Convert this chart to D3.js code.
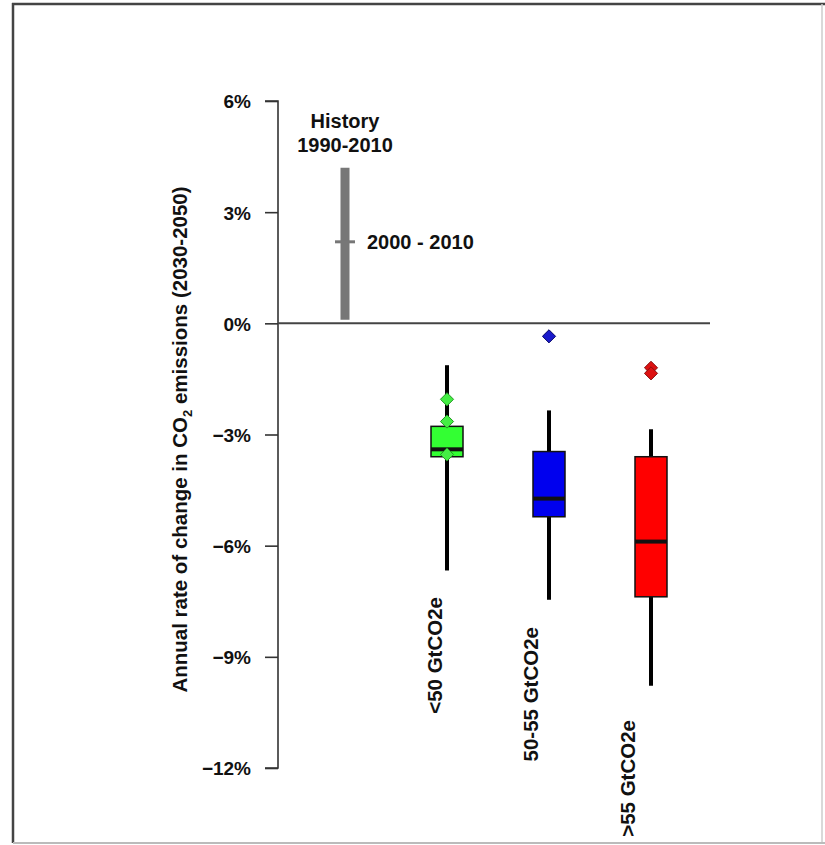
<!DOCTYPE html>
<html><head><meta charset="utf-8">
<script src="https://cdn.jsdelivr.net/npm/d3@7"></script>
<style>
html,body{margin:0;padding:0;background:#fff;}
text{font-family:"Liberation Sans",Arial,Helvetica,sans-serif;font-weight:bold;fill:#111;}
</style></head><body>
<svg id="chart" width="825" height="845"></svg>
<script>
// ---- data ----
const categories = ["<50 GtCO2e", "50-55 GtCO2e", ">55 GtCO2e"];
const whiskerLow  = [-6.67, -7.46, -9.78];
const boxLow      = [-3.6, -5.22, -7.38];
const medians     = [-3.4, -4.73, -5.89];
const boxHigh     = [-2.78, -3.46, -3.6];
const whiskerHigh = [-1.13, -2.35, -2.86];
const boxColors   = ["#33ff33", "#0000ee", "#ff0000"];
const pointsGreen = [-2.05, -2.65, -3.54];
const pointsBlue  = [-0.35];
const pointsRed   = [-1.2, -1.35];
const historyRange = [0.1, 4.2];
const historyMean  = 2.2;
const yTicks = [6, 3, 0, -3, -6, -9, -12];
const yTickLabels = ["6%", "3%", "0%", "\u22123%", "\u22126%", "\u22129%", "\u221212%"];

// ---- layout ----
const svg = d3.select("#chart");
const y = d3.scaleLinear().domain([-12, 6]).range([768, 101]);
const x = d3.scalePoint().domain(["History"].concat(categories)).range([345, 651]);
const axisX = 278;

// frame
svg.append("line").attr("x1",13).attr("x2",13).attr("y1",3).attr("y2",843).attr("stroke","#444").attr("stroke-width",2.5);
svg.append("line").attr("x1",12).attr("x2",825).attr("y1",4).attr("y2",4).attr("stroke","#444").attr("stroke-width",2.5);
svg.append("line").attr("x1",822).attr("x2",822).attr("y1",4).attr("y2",843).attr("stroke","#ccc").attr("stroke-width",1.5);
svg.append("line").attr("x1",13).attr("x2",825).attr("y1",843).attr("y2",843).attr("stroke","#bbb").attr("stroke-width",2);

// y axis
const yAxis = d3.axisLeft(y).tickValues(yTicks).tickSize(13).tickPadding(14)
  .tickFormat((d,i) => yTickLabels[i]);
const ga = svg.append("g").attr("transform", `translate(${axisX},0)`).call(yAxis);
ga.select(".domain").attr("stroke","#333").attr("stroke-width",1.6).attr("d", `M-13,${y(6)}H0V${y(-12)}H-13`);
ga.selectAll(".tick line").attr("stroke","#333").attr("stroke-width",1.6);
ga.selectAll(".tick text").style("font-size","19px").attr("font-family",null).attr("fill","#111").attr("dy","0.36em");

// y label
svg.append("text")
  .attr("transform", `translate(187,${(y(6)+y(-12))/2 + 5}) rotate(-90)`)
  .attr("text-anchor","middle").style("font-size","20.5px")
  .html('Annual rate of change in CO<tspan dy="5" style="font-size:13px">2</tspan><tspan dy="-5"> emissions (2030-2050)</tspan>');

// zero line
svg.append("line").attr("x1",axisX).attr("x2",710).attr("y1",y(0)).attr("y2",y(0)).attr("stroke","#444").attr("stroke-width",2);

// history
const hx = x("History");
svg.append("line").attr("x1",hx).attr("x2",hx).attr("y1",y(historyRange[0])).attr("y2",y(historyRange[1]))
  .attr("stroke","#777").attr("stroke-width",9);
svg.append("line").attr("x1",hx-10).attr("x2",hx+10).attr("y1",y(historyMean)).attr("y2",y(historyMean))
  .attr("stroke","#777").attr("stroke-width",3);
svg.append("text").attr("x",hx).attr("y",128).attr("text-anchor","middle").style("font-size","20px").text("History");
svg.append("text").attr("x",hx).attr("y",152).attr("text-anchor","middle").style("font-size","20px").text("1990-2010");
svg.append("text").attr("x",hx+22).attr("y",y(historyMean)+7).style("font-size","20px").text("2000 - 2010");

// boxes
const boxW = 32;
categories.forEach((c,i) => {
  const cx = x(c);
  svg.append("line").attr("x1",cx).attr("x2",cx).attr("y1",y(whiskerLow[i])).attr("y2",y(whiskerHigh[i]))
    .attr("stroke","#000").attr("stroke-width",4);
  svg.append("rect").attr("x",cx-boxW/2).attr("width",boxW)
    .attr("y",y(boxHigh[i])).attr("height",y(boxLow[i])-y(boxHigh[i]))
    .attr("fill",boxColors[i]).attr("stroke","#111").attr("stroke-width",1.5);
  svg.append("line").attr("x1",cx-boxW/2).attr("x2",cx+boxW/2).attr("y1",y(medians[i])).attr("y2",y(medians[i]))
    .attr("stroke","#111").attr("stroke-width",4);
});

// points (diamonds)
const diamond = d3.symbol().type(d3.symbolDiamond2).size(110);
function pts(vals, cat, fill, stroke){
  svg.selectAll(null).data(vals).join("path")
    .attr("d", diamond)
    .attr("transform", d => `translate(${x(cat)},${y(d)})`)
    .attr("fill", fill).attr("stroke", stroke).attr("stroke-width",1);
}
pts(pointsGreen, categories[0], "#44ee44", "#229922");
pts(pointsBlue, categories[1], "#1a1acc", "#000066");
pts(pointsRed, categories[2], "#dd1111", "#881111");

// category labels (rotated)
const labelTop = [597, 627, 720];
const labelBaseline = [442, 538, 635];
categories.forEach((c,i) => {
  svg.append("text")
    .attr("transform", `translate(${labelBaseline[i]},${labelTop[i]}) rotate(-90)`)
    .attr("text-anchor","end").style("font-size","20.5px").text(c);
});
</script>
</body></html>
